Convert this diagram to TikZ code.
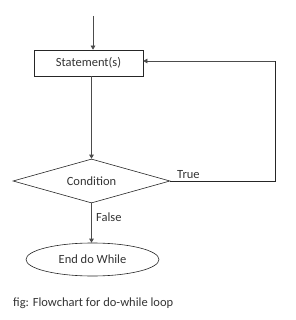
\documentclass[tikz,border=0pt]{standalone}
\usepackage{fontspec}
\setmainfont{Carlito}
\usetikzlibrary{shapes.geometric,arrows.meta}
\begin{document}
\begin{tikzpicture}[x=1pt,y=-1pt,
  every node/.style={font=\fontsize{12.5}{14}\selectfont, text=black!80},
  conn/.style={draw=black!70, line width=0.6pt, -{Triangle[length=4pt,width=4.5pt]}},
  box/.style={draw=black!85, line width=0.6pt, rectangle, minimum width=109pt, minimum height=26pt, inner sep=0pt},
  dec/.style={draw=black!85, line width=0.6pt, diamond, aspect=3.5, minimum width=157pt, minimum height=44pt, inner sep=0pt},
  term/.style={draw=black!85, line width=0.6pt, ellipse, minimum width=133pt, minimum height=33pt, inner sep=0pt},
  lbl/.style={font=\fontsize{12.5}{14}\selectfont, inner sep=0pt}]
\useasboundingbox (0,0) rectangle (295,320);
\coordinate (start) at (93,16);
\node[box] (stmt) at (88.5,63) {Statement(s)};
\node[dec] (cond) at (91.5,181) {Condition};
\node[term] (end) at (92.5,259.5) {End do While};
\coordinate (rb) at (275,181);
\coordinate (rt) at (275,61);
\draw[conn] (start) -- (start |- stmt.north);
\draw[conn] (stmt.south -| cond.north) -- (cond.north);
\draw[draw=black!85, line width=0.6pt] (cond.east) -- (rb) -- (rt);
\draw[conn] (rt) -- (stmt.east |- rt);
\draw[conn] (cond.south) -- (end.north -| cond.south);
\node[lbl, anchor=south west] (t) at (177,179) {True};
\node[lbl, anchor=west] (f) at (96,217) {False};
\node[lbl, anchor=west] (cap) at (13,303) {fig: Flowchart for do-while loop};
\end{tikzpicture}
\end{document}
